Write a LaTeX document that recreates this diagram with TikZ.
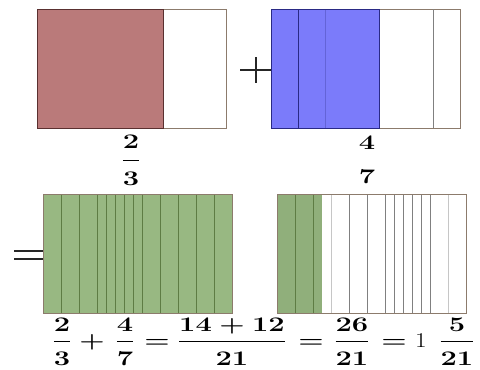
\documentclass[tikz,border=0pt]{standalone}
\usepackage{amsmath}
\definecolor{fracred}{HTML}{BA7A7A}
\definecolor{fracredline}{HTML}{5A3030}
\definecolor{fracblue}{HTML}{7B7BFA}
\definecolor{fracblueline}{HTML}{2A2A85}
\definecolor{fracgreen}{HTML}{98B882}
\definecolor{fracgreenline}{HTML}{5E7C44}
\definecolor{boxline}{HTML}{8C7B6C}
\usetikzlibrary{positioning}

% fraction, denominator pushed a little lower
\newcommand\fr[2]{\dfrac{#1}{\raisebox{-3pt}{$#2$}}}

\begin{document}
\begin{tikzpicture}[
  x=1pt, y=-1pt,
  box/.style={draw=boxline, line width=0.9pt},
  tick/.style={line width=0.8pt},
  sign/.style={line width=1.6pt, black!85},
  frac/.style={font=\fontsize{20}{24}\selectfont\boldmath, xscale=1.4, inner sep=0pt, anchor=base}
]
\useasboundingbox (0,0) rectangle (480,370);

% Box sizes
\def\W{189}   % box width
\def\H{119}   % box height
\def\U{9}     % one 21st of the width
\def\B{347}   % baseline of the sum

% 2/3
\draw[box] (37,9) rectangle ++(\W,\H);
\fill[fracred] (37,9) rectangle (163,128);
\draw[fracredline, line width=0.9pt] (37,9) rectangle (163,128);
\node[frac] (a) at (131,166) {$\dfrac{\raisebox{2pt}{$2$}}{\raisebox{-4pt}{$3$}}$};

% plus
\draw[sign] (240,70) -- (271,70);
\draw[sign, line width=1.1pt] (256,57) -- (256,83);

% 4/7
\draw[box] (271,9) rectangle ++(\W,\H);
\fill[fracblue] (271,9) rectangle (379,128);
\draw[tick, fracblueline] (298,9) -- (298,128);
\draw[tick, fracblue!70!fracblueline] (325,9) -- (325,128);
\draw[fracblueline, line width=0.9pt] (271,9) rectangle (379,128);
\draw[tick, gray] (433,9) -- (433,128);
\node[frac] (b) at (367,165) {$\genfrac{}{}{0pt}{0}{4}{\raisebox{-3pt}{$7$}}$};

% equals
\draw[sign] (14,251) -- (43,251);
\draw[sign] (14,259) -- (43,259);

% 26/21
\fill[fracgreen] (43,194) rectangle ++(\W,\H);
\foreach \k in {2,4,6,7,8,9,10,11,13,15,17,19}
  \draw[tick, fracgreenline] ({43+\k*\U},194) -- ({43+\k*\U},313);
\draw[box] (43,194) rectangle ++(\W,\H);

% 5/21 left over
\fill[fracgreen!95!black] (277,194) rectangle ({277+5*\U},313);
\foreach \k in {2,4}
  \draw[tick, fracgreenline] ({277+\k*\U},194) -- ({277+\k*\U},313);
\foreach \k in {8,10,12,13,14,15,16,17}
  \draw[tick, gray] ({277+\k*\U},194) -- ({277+\k*\U},313);
\foreach \k in {6,19}
  \draw[tick, gray!45] ({277+\k*\U},194) -- ({277+\k*\U},313);
\draw[box] (277,194) rectangle ++(\W,\H);

% Sum
\node[frac] (f1)  at (62,\B)  {$\fr{2}{3}$};
\node[frac] (p1)  at (92,\B)  {$+$};
\node[frac] (f2)  at (125,\B) {$\fr{4}{7}$};
\node[frac] (e1)  at (157,\B) {$=$};
\node[frac] (f3)  at (232,\B) {$\fr{14+12}{21}$};
\node[frac] (e2)  at (311,\B) {$=$};
\node[frac] (f4)  at (352,\B) {$\fr{26}{21}$};
\node[frac] (e3)  at (394,\B) {$=$};
\node[font=\fontsize{21}{24}\selectfont, xscale=1.2, inner sep=0pt] (one) at (421,341) {1};
\node[frac] (f5)  at (457,\B) {$\fr{5}{21}$};

\end{tikzpicture}
\end{document}
